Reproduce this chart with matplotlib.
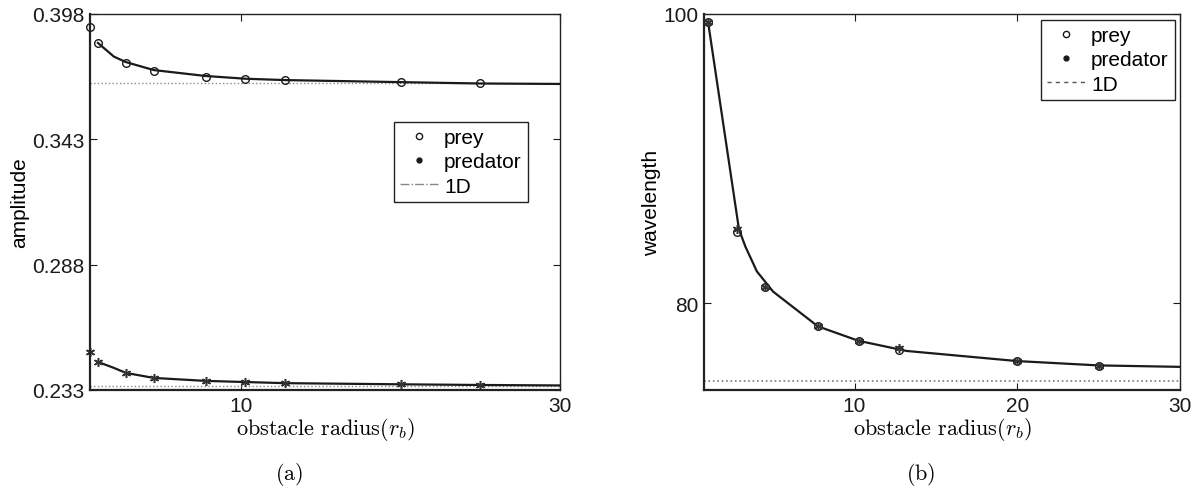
import matplotlib
matplotlib.use("Agg")
import matplotlib.pyplot as plt
from matplotlib.lines import Line2D

plt.rcParams['font.family'] = ['Liberation Sans', 'DejaVu Sans']
plt.rcParams['mathtext.fontset'] = 'cm'

# (a) amplitude vs obstacle radius
r_a = [0.5, 1, 2.75, 4.5, 7.75, 10.25, 12.75, 20, 25]
prey_amp = [0.3923, 0.3853, 0.3765, 0.3730, 0.3704, 0.3695, 0.3690, 0.3682, 0.3676]
pred_amp = [0.2497, 0.2453, 0.2405, 0.2383, 0.2370, 0.2365, 0.2360, 0.2355, 0.2352]
fit_r_a = [1, 2, 2.75, 4.5, 7.75, 10.25, 12.75, 20, 25, 30]
fit_prey_amp = [0.3853, 0.3793, 0.3769, 0.3734, 0.3708, 0.3696, 0.3690, 0.3681, 0.3675, 0.3673]
fit_pred_amp = [0.2453, 0.2427, 0.2405, 0.2383, 0.2370, 0.2365, 0.2360, 0.2355, 0.2352, 0.2350]
prey_1d_amp = 0.3676
pred_1d_amp = 0.2348

# (b) wavelength vs obstacle radius
r_b = [1, 2.75, 4.5, 7.75, 10.25, 12.75, 20, 25]
prey_wl = [99.45, 84.9, 81.1, 78.4, 77.4, 76.8, 76.0, 75.65]
pred_wl = [99.45, 85.1, 81.1, 78.4, 77.4, 76.9, 76.0, 75.65]
fit_r_b = [1, 2.9, 3.3, 4.0, 5.0, 7.75, 10.25, 13.2, 20, 25, 30]
fit_wl = [99.45, 85.1, 83.9, 82.2, 80.8, 78.4, 77.4, 76.7, 76.0, 75.7, 75.6]
wl_1d = 74.62

W, H = 1202, 489
fig = plt.figure(figsize=(W / 100, H / 100), dpi=100)
ax1 = fig.add_axes([90 / W, 98 / H, 470 / W, 376 / H])
ax2 = fig.add_axes([704 / W, 98 / H, 476 / W, 376 / H])

ink = '#1a1a1a'
fs = 15
star = (6, 2, 0)  # line asterisk like matlab '*'

def style(ax):
    ax.tick_params(direction='in', top=True, right=True, labelsize=fs, length=5,
                   width=0.8, colors=ink, pad=4)
    for side in ['left', 'bottom']:
        ax.spines[side].set_linewidth(1.6)
    for side in ['top', 'right']:
        ax.spines[side].set_linewidth(1.0)
    for sp in ax.spines.values():
        sp.set_color('#222222')
    ax.set_xlabel(r'$\mathrm{obstacle\ radius}(r_b)$', fontsize=16, labelpad=0)

# ---- (a)
ax1.axhline(prey_1d_amp, color='#888888', ls=':', lw=1.0)
ax1.axhline(pred_1d_amp, color='#888888', ls=':', lw=1.0)
ax1.plot(fit_r_a, fit_prey_amp, color=ink, lw=1.6)
ax1.plot(fit_r_a, fit_pred_amp, color=ink, lw=1.6)
ax1.plot(r_a, prey_amp, 'o', mfc='none', mec=ink, ms=5.5, mew=1.0, clip_on=False)
ax1.plot(r_a, pred_amp, marker=star, ls='none', color='#333333', ms=6.5, mew=1.1, clip_on=False)
ax1.set_xlim(0.5, 30)
ax1.set_ylim(0.233, 0.398)
ax1.set_xticks([10, 30])
ax1.set_yticks([0.233, 0.288, 0.343, 0.398])
ax1.set_yticklabels(['0.233', '0.288', '0.343', '0.398'])
ax1.set_ylabel('amplitude', fontsize=fs, labelpad=2)
style(ax1)

h1 = [Line2D([], [], ls='none', marker='o', mfc='none', mec=ink, ms=4.5),
      Line2D([], [], ls='none', marker='o', color=ink, ms=3.5),
      Line2D([], [], ls='-.', color='#888888', lw=1.0)]
leg1 = ax1.legend(h1, ['prey', 'predator', '1D'], loc='upper left',
                  bbox_to_anchor=(0.647, 0.713), borderaxespad=0, fontsize=fs,
                  fancybox=False, edgecolor='#222222', framealpha=1,
                  handlelength=1.8, handletextpad=0.3, labelspacing=0.25,
                  borderpad=0.3)
leg1.get_frame().set_linewidth(1.0)

# ---- (b)
ax2.axhline(wl_1d, color='#777777', ls=':', lw=1.2)
ax2.plot(fit_r_b, fit_wl, color=ink, lw=1.6)
ax2.plot(r_b, prey_wl, 'o', mfc='none', mec=ink, ms=5.5, mew=1.0, clip_on=False)
ax2.plot(r_b, pred_wl, marker=star, ls='none', color='#333333', ms=6.5, mew=1.1, clip_on=False)
ax2.set_xlim(0.75, 30)
ax2.set_ylim(74, 100)
ax2.set_xticks([10, 20, 30])
ax2.set_yticks([80, 100])
ax2.set_ylabel('wavelength', fontsize=fs, labelpad=2)
style(ax2)

h2 = [Line2D([], [], ls='none', marker='o', mfc='none', mec=ink, ms=4.5),
      Line2D([], [], ls='none', marker='o', color=ink, ms=3.5),
      Line2D([], [], ls='--', color='#555555', lw=1.0, dashes=(3, 3))]
leg2 = ax2.legend(h2, ['prey', 'predator', '1D'], loc='upper right',
                  bbox_to_anchor=(0.989, 0.984), borderaxespad=0, fontsize=fs,
                  fancybox=False, edgecolor='#222222', framealpha=1,
                  handlelength=1.8, handletextpad=0.3, labelspacing=0.25,
                  borderpad=0.3)
leg2.get_frame().set_linewidth(1.0)

fig.text(289 / W, 1 - 475 / H, r'$\mathrm{(a)}$', ha='center', va='center', fontsize=16)
fig.text(921 / W, 1 - 475 / H, r'$\mathrm{(b)}$', ha='center', va='center', fontsize=16)

fig.savefig('out.png', dpi=100)
